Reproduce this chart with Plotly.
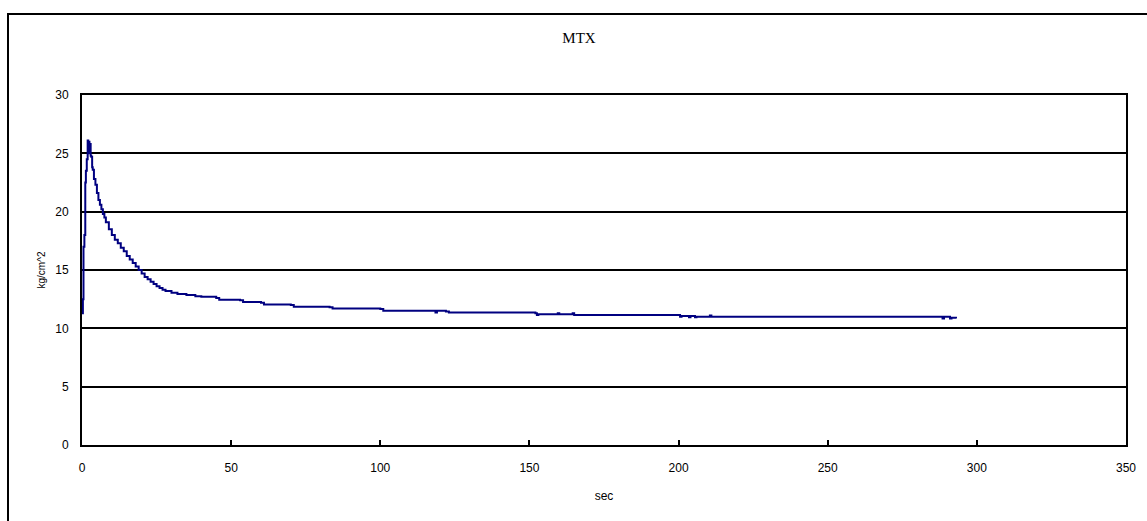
import plotly.graph_objects as go

# time (sec)
time_sec = [
    0.0, 0.3, 0.5, 0.8, 1.1, 1.3, 1.6, 1.9, 2.1, 2.3,
    2.5, 2.7, 2.9, 3.1, 3.4, 3.6, 4.0, 4.5, 5.0, 5.5,
    6.0, 6.5, 7.0, 7.5, 8.0, 9.0, 10.0, 11.0, 12.0, 13.0,
    14.0, 15.0, 16.0, 17.0, 18.0, 19.0, 20.0, 21.0, 22.0, 23.0,
    24.0, 25.0, 26.0, 27.0, 28.0, 30.0, 32.0, 35.0, 38.0, 40.0,
    45.0, 46.0, 53.0, 54.0, 60.0, 61.0, 70.0, 71.0, 83.0, 84.0,
    100.0, 101.0, 118.0, 118.5, 119.0, 122.0, 123.0, 152.0, 152.5, 153.0,
    159.0, 159.5, 160.0, 164.0, 164.5, 165.0, 200.0, 200.5, 201.0, 203.0,
    203.5, 204.0, 205.0, 205.5, 206.0, 210.0, 210.5, 211.0, 288.0, 288.5,
    289.0, 290.5, 291.0, 291.5, 293.0,
]
# pressure (kg/cm^2)
pressure = [
    11.3, 12.5, 17.0, 18.0, 22.5, 23.5, 24.5, 26.1, 25.0, 26.0,
    25.2, 25.8, 24.8, 24.7, 23.8, 23.6, 22.8, 22.3, 21.6, 21.0,
    20.6, 20.2, 19.8, 19.5, 19.1, 18.5, 18.0, 17.6, 17.3, 16.9,
    16.6, 16.2, 15.9, 15.6, 15.3, 15.0, 14.7, 14.4, 14.2, 14.0,
    13.8, 13.6, 13.45, 13.3, 13.2, 13.05, 12.95, 12.85, 12.75, 12.7,
    12.6, 12.45, 12.4, 12.25, 12.2, 12.05, 12.0, 11.85, 11.8, 11.7,
    11.65, 11.5, 11.5, 11.35, 11.5, 11.45, 11.35, 11.3, 11.15, 11.2,
    11.2, 11.3, 11.2, 11.2, 11.3, 11.15, 11.15, 11.0, 11.05, 11.05,
    10.95, 11.05, 11.05, 10.95, 11.0, 11.0, 11.1, 11.0, 11.0, 10.85,
    11.0, 11.0, 10.85, 10.9, 10.85,
]

x_ticks = [0, 50, 100, 150, 200, 250, 300, 350]
y_ticks = [0, 5, 10, 15, 20, 25, 30]

fig = go.Figure()
fig.add_trace(go.Scatter(
    x=time_sec, y=pressure, mode="lines", line_shape="hv",
    line=dict(color="#000080", width=2), showlegend=False,
))

sans = "Arial, Liberation Sans, sans-serif"
tick_font = dict(family=sans, size=12, color="black")

fig.update_layout(
    width=1147, height=521,
    margin=dict(l=82, r=21, t=95, b=76),
    paper_bgcolor="white", plot_bgcolor="white",
    title=dict(text="MTX", x=579 / 1147, xref="container", y=1 - 38 / 521, yref="container",
               xanchor="center", yanchor="middle",
               font=dict(family="Liberation Serif, Times New Roman, serif", size=15, color="black")),
    xaxis=dict(
        range=[0, 350], tickvals=x_ticks, ticktext=[str(v) for v in x_ticks],
        showgrid=False, zeroline=False, showline=True, linecolor="black", linewidth=2,
        mirror=True, ticks="inside", ticklen=5, tickwidth=2, tickcolor="black",
        tickfont=tick_font, ticklabelstandoff=11, automargin=False,
        title=dict(text="sec", font=dict(family=sans, size=12, color="black"), standoff=17),
    ),
    yaxis=dict(
        range=[0, 30], tickvals=y_ticks, ticktext=[str(v) for v in y_ticks],
        showgrid=True, gridcolor="black", gridwidth=2, zeroline=False,
        showline=True, linecolor="black", linewidth=2, mirror=True,
        ticks="", tickfont=tick_font, ticklabelstandoff=9, automargin=False,
        title=dict(text="kg/cm^2", font=dict(family=sans, size=10, color="black"), standoff=8),
    ),
)

# outer chart-area border (extends past right and bottom edges like the reference)
fig.add_shape(type="rect", xref="paper", yref="paper",
              x0=(8 - 82) / 1044, x1=(1160 - 82) / 1044,
              y0=-(540 - 445) / 350, y1=1 + (95 - 14) / 350,
              line=dict(color="black", width=2), fillcolor="rgba(0,0,0,0)", layer="below")

fig.write_html("out.html")
